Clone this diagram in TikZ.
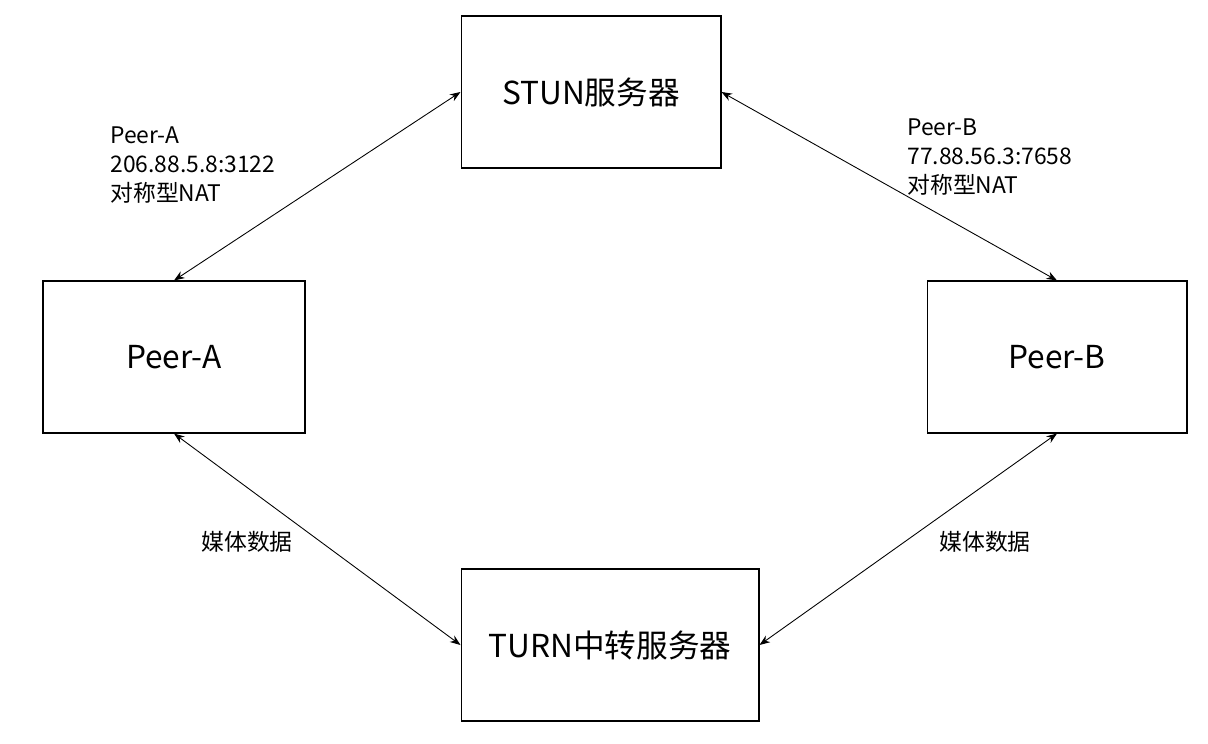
\documentclass[tikz,border=0pt]{standalone}
\usepackage{fontspec}
\setmainfont{Noto Sans CJK SC}
\usetikzlibrary{positioning,arrows.meta}

\begin{document}
\begin{tikzpicture}[x=0.02cm,y=-0.02cm]
			\useasboundingbox (0,0) rectangle (1208,744);
			% Define the box style
			\tikzset{srvbox/.style={draw, rectangle, line width=0.6pt, font=\fontsize{18}{20}\selectfont},
				link/.style={{Stealth[length=6pt]}-{Stealth[length=6pt]}, line width=0.5pt},
				info/.style={align=left, anchor=north west, inner sep=0pt, font=\fontsize{13}{16.5}\selectfont}};
			
			% Servers and peers
			\node[srvbox, minimum width=5.2cm, minimum height=3.04cm] (stun) at (591,92) {STUN服务器};
			\node[srvbox, minimum width=5.24cm, minimum height=3.04cm] (pa) at (174,357) {Peer-A};
			\node[srvbox, minimum width=5.2cm, minimum height=3.04cm] (pb) at (1057,357) {Peer-B};
			\node[srvbox, minimum width=5.96cm, minimum height=3.04cm] (turn) at (610,645) {TURN中转服务器};
			
			% Connections
			\draw[link] (stun.west) -- (pa.north);
			\draw[link] (stun.east) -- (pb.north);
			\draw[link] (pa.south) -- (turn.west);
			\draw[link] (pb.south) -- (turn.east);
			
			% Labels
			\node[info] (la) at (110,126) {Peer-A\\206.88.5.8:3122\\对称型NAT};
			\node[info] (lb) at (907,118) {Peer-B\\77.88.56.3:7658\\对称型NAT};
			\node[font=\fontsize{13}{16}\selectfont] (ma) at (247,542) {媒体数据};
			\node[font=\fontsize{13}{16}\selectfont] (mb) at (985,542) {媒体数据};
		\end{tikzpicture}
\end{document}
